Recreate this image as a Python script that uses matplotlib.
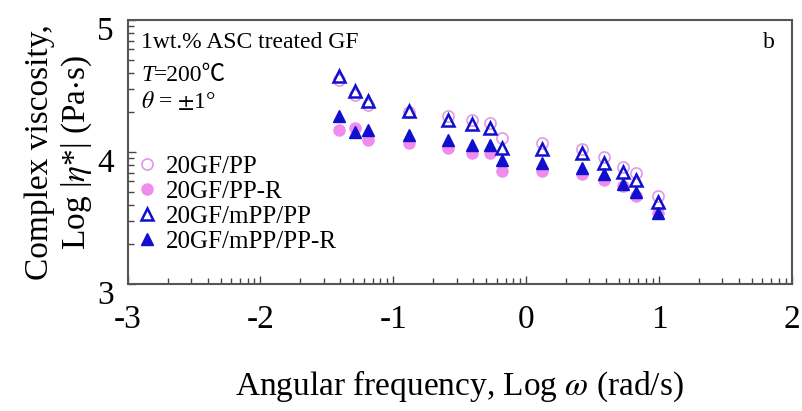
import matplotlib
matplotlib.use("Agg")
import matplotlib.pyplot as plt
import matplotlib.transforms as mtransforms
import numpy as np
from matplotlib.ticker import FixedLocator

plt.rcParams['font.family'] = ['Liberation Serif', 'DejaVu Serif']
plt.rcParams['mathtext.fontset'] = 'stix'
plt.rcParams['axes.unicode_minus'] = False

# log angular frequency (rad/s)
log_w = [-1.41, -1.29, -1.19, -0.88, -0.59, -0.41, -0.27, -0.18, 0.12, 0.42, 0.59, 0.73, 0.83, 0.99]

# log complex viscosity (Pa s)
pp = [4.55, 4.43, 4.36, 4.30, 4.27, 4.24, 4.22, 4.11, 4.07, 4.02, 3.96, 3.89, 3.84, 3.67]
pp_r = [4.17, 4.18, 4.09, 4.07, 4.03, 3.99, 3.99, 3.86, 3.86, 3.83, 3.79, 3.74, 3.67, 3.54]
mpp_pp = [4.58, 4.46, 4.39, 4.31, 4.24, 4.21, 4.18, 4.03, 4.02, 3.99, 3.92, 3.85, 3.79, 3.62]
mpp_pp_r = [4.27, 4.15, 4.17, 4.13, 4.09, 4.05, 4.05, 3.94, 3.92, 3.88, 3.83, 3.76, 3.70, 3.54]

labels = ['20GF/PP', '20GF/PP-R', '20GF/mPP/PP', '20GF/mPP/PP-R']

pink = '#f08cf0'
pink_edge = '#e09ae6'
blue = '#1010cc'

fig = plt.figure(figsize=(8.03, 4.11), dpi=100)
ax = fig.add_axes([0.159, 0.309, 0.827, 0.642])

ax.plot(log_w, pp, 'o', ms=8, mfc='none', mec=pink_edge, mew=1.2, label=labels[0])
ax.plot(log_w, pp_r, 'o', ms=8, mfc=pink, mec=pink, label=labels[1])
ax.plot(log_w, mpp_pp, '^', ms=9, mfc='none', mec=blue, mew=1.8, label=labels[2])
ax.plot(log_w, mpp_pp_r, '^', ms=8, mfc=blue, mec=blue, label=labels[3])

ax.set_xlim(-3, 2)
ax.set_ylim(3, 5)
ax.set_xticks([-3, -2, -1, 0, 1, 2])
ax.set_yticks([3, 4, 5])

# log style minor ticks inside every decade
minor_x = [d + np.log10(k) for d in range(-3, 2) for k in range(2, 10)]
minor_y = [d + np.log10(k) for d in range(3, 5) for k in range(2, 10)]
ax.xaxis.set_minor_locator(FixedLocator(minor_x))
ax.yaxis.set_minor_locator(FixedLocator(minor_y))
ax.tick_params(which='both', direction='in', top=False, right=False,
               color='#444444', width=1)
ax.tick_params(which='major', length=6, labelsize=24)
ax.tick_params(which='minor', length=4)
ax.tick_params(axis='x', which='major', pad=15)
ax.tick_params(axis='y', which='major', pad=10)

# y tick numbers sit a little low in the original
shift = mtransforms.ScaledTranslation(0, -6 / 72, fig.dpi_scale_trans)
for lab in ax.get_yticklabels():
    lab.set_transform(lab.get_transform() + shift)

for s in ax.spines.values():
    s.set_color('#555555')
    s.set_linewidth(1.5)

ax.set_xlabel(r'Angular frequency, Log $\omega$ (rad/s)', fontsize=24, labelpad=24)
ax.set_ylabel('Complex viscosity,\n' + r'Log |$\eta$*| (Pa$\cdot$s)', fontsize=24,
              linespacing=1.2, labelpad=2)

ax.text(0.02, 0.915, '1wt.% ASC treated GF', transform=ax.transAxes, fontsize=17,
        va='center')
t1 = ax.text(0.02, 0.79, 'T', transform=ax.transAxes, fontsize=17, style='italic',
             va='center')
ax.annotate('=200℃', xy=(1, 0), xycoords=t1, va='bottom', fontsize=17,
            family=['Liberation Serif', 'Noto Sans CJK JP'])
ax.text(0.02, 0.69, r'$\theta$ = $\pm$1°', transform=ax.transAxes, fontsize=17,
        va='center')
ax.text(0.965, 0.915, 'b', transform=ax.transAxes, fontsize=17, va='center',
        ha='center')

ax.legend(loc='upper left', bbox_to_anchor=(-0.014, 0.525), frameon=False,
          fontsize=18, handletextpad=0.0, labelspacing=0.1, borderaxespad=0,
          handlelength=1.5)

fig.savefig('out.png', dpi=100)
